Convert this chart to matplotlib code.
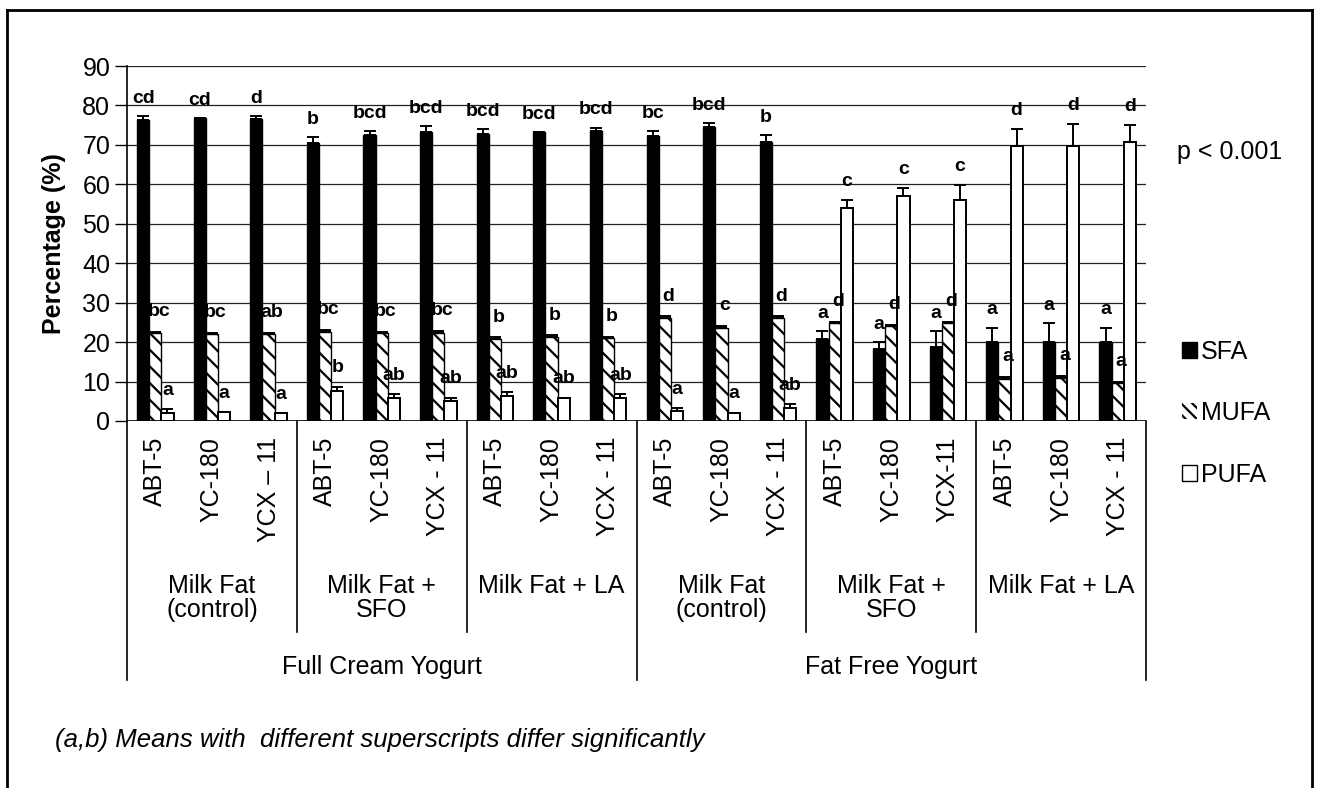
import matplotlib
matplotlib.use("Agg")
import matplotlib.pyplot as plt
import matplotlib.transforms as mtransforms
from matplotlib.lines import Line2D
from matplotlib.patches import Patch
import numpy as np

plt.rcParams['font.family'] = ['Liberation Sans', 'DejaVu Sans']
plt.rcParams['hatch.linewidth'] = 1.6

# fatty acid profile (%) per yogurt / oil / strain
sfa = [76.2, 76.8, 76.6, 70.6, 72.4, 73.3, 72.7, 73.3, 73.5,
       72.3, 74.6, 70.8, 20.9, 18.3, 18.8, 20.0, 20.0, 20.0]
sfa_err = [1.0, 0.0, 0.7, 1.3, 1.2, 1.5, 1.4, 0.0, 0.9,
           1.1, 1.0, 1.7, 1.9, 1.7, 4.0, 3.7, 4.8, 3.7]
mufa = [22.2, 22.0, 22.0, 22.6, 22.2, 22.4, 20.9, 21.3, 21.1,
        26.2, 23.7, 26.2, 24.8, 24.1, 24.8, 10.7, 11.0, 9.7]
mufa_err = [0.3, 0.3, 0.3, 0.4, 0.3, 0.4, 0.3, 0.4, 0.3,
            0.3, 0.5, 0.3, 0.3, 0.3, 0.3, 0.4, 0.4, 0.3]
pufa = [2.1, 2.2, 2.0, 7.6, 5.9, 5.1, 6.3, 5.9, 5.9,
        2.5, 2.1, 3.4, 54.1, 57.1, 56.0, 69.6, 69.6, 70.8]
pufa_err = [0.9, 0.0, 0.0, 1.1, 0.9, 0.8, 1.1, 0.0, 0.9,
            0.7, 0.0, 0.8, 1.9, 1.9, 3.8, 4.4, 5.6, 4.2]

sfa_sig = ['cd', 'cd', 'd', 'b', 'bcd', 'bcd', 'bcd', 'bcd', 'bcd',
           'bc', 'bcd', 'b', 'a', 'a', 'a', 'a', 'a', 'a']
mufa_sig = ['bc', 'bc', 'ab', 'bc', 'bc', 'bc', 'b', 'b', 'b',
            'd', 'c', 'd', 'd', 'd', 'd', 'a', 'a', 'a']
pufa_sig = ['a', 'a', 'a', 'b', 'ab', 'ab', 'ab', 'ab', 'ab',
            'a', 'a', 'ab', 'c', 'c', 'c', 'd', 'd', 'd']

strains = ['ABT-5', 'YC-180', 'YCX \u2013 11',
           'ABT-5', 'YC-180', 'YCX - 11',
           'ABT-5', 'YC-180', 'YCX - 11',
           'ABT-5', 'YC-180', 'YCX - 11',
           'ABT-5', 'YC-180', 'YCX-11',
           'ABT-5', 'YC-180', 'YCX - 11']
oils = ['Milk Fat\n(control)', 'Milk Fat +\nSFO', 'Milk Fat + LA',
        'Milk Fat\n(control)', 'Milk Fat +\nSFO', 'Milk Fat + LA']
yogurts = ['Full Cream Yogurt', 'Fat Free Yogurt']

W, H = 1318, 788
fig = plt.figure(figsize=(W / 100, H / 100), dpi=100)
fx = lambda p: p / W
fy = lambda p: 1 - p / H

ax = fig.add_axes([fx(127), fy(421), fx(1146) - fx(127), fy(66) - fy(421)])

x = np.arange(len(sfa))
w = 0.215
ekw = dict(ecolor='black', elinewidth=1.4, capsize=4.5, capthick=1.4)
ax.bar(x - w, sfa, w, color='black', edgecolor='black', linewidth=1,
       yerr=[np.zeros(len(sfa)), sfa_err], error_kw=ekw, zorder=3)
ax.bar(x, mufa, w, color='white', edgecolor='black', linewidth=1, hatch='\\\\',
       yerr=[np.zeros(len(mufa)), mufa_err], error_kw=ekw, zorder=3)
ax.bar(x + w, pufa, w, color='white', edgecolor='black', linewidth=1.4,
       yerr=[np.zeros(len(pufa)), pufa_err], error_kw=ekw, zorder=3)

# significance letters
lab = dict(ha='center', va='bottom', fontsize=14, fontweight='bold', zorder=5)
for i in x:
    ax.text(i - w, sfa[i] + sfa_err[i] + 2.3, sfa_sig[i], **lab)
    ax.text(i + 0.06, mufa[i] + mufa_err[i] + 3.0, mufa_sig[i], **lab)
    ax.text(i + w, pufa[i] + pufa_err[i] + 2.6, pufa_sig[i], **lab)

ax.set_xlim(-0.5, len(sfa) - 0.5)
ax.set_ylim(0, 90)
ax.set_yticks(range(0, 91, 10))
ax.tick_params(axis='y', labelsize=18, length=9, width=1, direction='out', pad=3)
ax.set_xticks([])
ax.grid(axis='y', color='#222222', linewidth=0.9, zorder=0)
for s in ['top', 'right', 'bottom']:
    ax.spines[s].set_visible(False)
ax.spines['left'].set_linewidth(1.2)
ax.axhline(0, color='black', linewidth=1.2, zorder=4)
ax.set_ylabel('Percentage (%)', fontsize=18, fontweight='bold', labelpad=12)

# category boxes under the axis
blend = mtransforms.blended_transform_factory(ax.transData, fig.transFigure)
for i, s in enumerate(strains):
    ax.text(i, fy(437), s, transform=blend, rotation=90, ha='center', va='top',
            fontsize=18, clip_on=False)
for k, o in enumerate(oils):
    ax.text(3 * k + 1, fy(574), o, transform=blend, ha='center', va='top',
            fontsize=18, linespacing=1.0, clip_on=False)
for k, g in enumerate(yogurts):
    ax.text(9 * k + 4, fy(667), g, transform=blend, ha='center', va='center',
            fontsize=18, clip_on=False)
for b in [2.5, 5.5, 11.5, 14.5]:
    ax.plot([b, b], [fy(421), fy(632)], transform=blend, color='black',
            linewidth=1.2, clip_on=False)
for b in [-0.5, 8.5, 17.5]:
    ax.plot([b, b], [fy(421), fy(680)], transform=blend, color='black',
            linewidth=1.2, clip_on=False)

fig.text(fx(1177), fy(152), 'p < 0.001', fontsize=18, va='center')
fig.text(fx(55), fy(740), '(a,b) Means with  different superscripts differ significantly',
         fontsize=18.5, style='italic', va='center')

handles = [Patch(facecolor='black', edgecolor='black'),
           Patch(facecolor='white', edgecolor='black', linewidth=0, hatch='\\\\\\'),
           Patch(facecolor='white', edgecolor='black', linewidth=1)]
fig.legend(handles, ['SFA', 'MUFA', 'PUFA'], loc='center left',
           bbox_to_anchor=(fx(1182), fy(413)), frameon=False, fontsize=18,
           handlelength=0.6, handleheight=0.6, handletextpad=0.15,
           labelspacing=1.5, borderpad=0, borderaxespad=0)

# outer frame
fig.add_artist(Line2D([fx(7), fx(7)], [0, fy(10)], color='black', linewidth=2))
fig.add_artist(Line2D([fx(7), fx(1312)], [fy(10), fy(10)], color='black', linewidth=2))
fig.add_artist(Line2D([fx(1312), fx(1312)], [fy(10), 0], color='black', linewidth=2))

fig.savefig('out.png', dpi=100, facecolor='white')
